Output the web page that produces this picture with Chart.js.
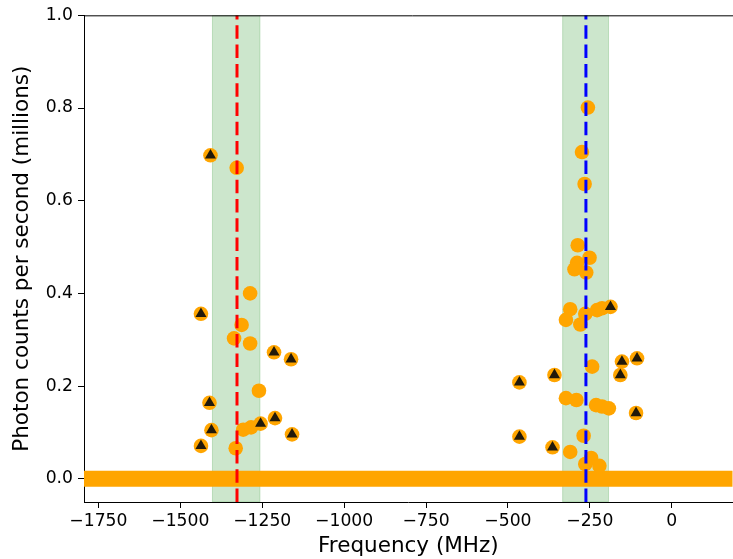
<!DOCTYPE html>
<html>
<head>
<meta charset="utf-8">
<script src="https://cdn.jsdelivr.net/npm/chart.js@4/dist/chart.umd.min.js"></script>
<style>
html,body{margin:0;padding:0;background:#fff;overflow:hidden;width:733px;height:559px;}
canvas{display:block;}
</style>
</head>
<body>
<canvas id="c" width="740" height="559"></canvas>
<script>
// ---- data (frequency in MHz, photon counts in millions/s) ----
const circleFreq = [-1328,-1287,-1313,-1336,-1287,-1260,-1308,-1284,-1331,
  -256,-274,-266,-287,-251,-289,-297,-261,-310,-323,-279,-264,-228,-213,-243,-323,-291,-231,-213,-192,-269,-310,-246,-264,-221];
const circleCounts = [0.671,0.400,0.332,0.303,0.292,0.190,0.106,0.111,0.066,
  0.801,0.705,0.636,0.504,0.477,0.466,0.452,0.445,0.366,0.343,0.333,0.356,0.364,0.368,0.242,0.174,0.170,0.159,0.156,0.152,0.093,0.058,0.045,0.032,0.028];
const triFreq = [-1408,-1437,-1411,-1405,-1437,-1214,-1162,-1255,-1211,-1159,
  -187,-152,-106,-157,-358,-465,-109,-465,-364];
const triCounts = [0.698,0.356,0.164,0.105,0.071,0.273,0.258,0.119,0.131,0.096,
  0.371,0.253,0.260,0.224,0.224,0.208,0.142,0.091,0.068];
const baselineCounts = [0, 0];
const lineFreqs = [-1327, -262];        // red, blue dashed markers
const bandLow = [-1402, -333];
const bandHigh = [-1257, -193];
const xRange = [-1794, 186];
const yRange = [-0.05, 1.0];
const xTicks = [-1750,-1500,-1250,-1000,-750,-500,-250,0];
const yTicks = [0.0,0.2,0.4,0.6,0.8,1.0];

const pts = (xs, ys) => xs.map((x, i) => ({x: x, y: ys[i]}));
const FONT = "'DejaVu Sans', sans-serif";

const spanPlugin = {
  id: 'spans',
  beforeDatasetsDraw(chart) {
    const {ctx, chartArea, scales} = chart;
    ctx.save();
    ctx.beginPath();
    ctx.rect(chartArea.left, chartArea.top, chartArea.right - chartArea.left, chartArea.bottom - chartArea.top);
    ctx.clip();
    for (let i = 0; i < bandLow.length; i++) {
      const x0 = scales.x.getPixelForValue(bandLow[i]);
      const x1 = scales.x.getPixelForValue(bandHigh[i]);
      ctx.fillStyle = 'rgba(0,128,0,0.2)';
      ctx.fillRect(x0, chartArea.top, x1 - x0, chartArea.bottom - chartArea.top);
      ctx.strokeStyle = 'rgba(0,128,0,0.2)';
      ctx.lineWidth = 1;
      ctx.strokeRect(x0, chartArea.top, x1 - x0, chartArea.bottom - chartArea.top);
    }
    ctx.restore();
  },
  afterDraw(chart) {
    const {ctx, chartArea} = chart;
    ctx.save();
    ctx.strokeStyle = '#000';
    ctx.lineWidth = 1;
    ctx.beginPath();
    ctx.moveTo(chartArea.left, chartArea.top + 0.5);
    ctx.lineTo(chartArea.right + 10, chartArea.top + 0.5);
    ctx.stroke();
    ctx.restore();
  }
};

const fmt = v => (v < 0 ? '\u2212' : '') + Math.abs(v);

new Chart(document.getElementById('c'), {
  type: 'scatter',
  data: {
    datasets: [
      {
        label: 'baseline',
        data: pts(xRange, baselineCounts),
        showLine: true, borderColor: '#FFA500', borderWidth: 16,
        pointRadius: 0, clip: 0, order: 5, borderCapStyle: 'butt'
      },
      {
        label: 'counts',
        data: pts(circleFreq, circleCounts),
        backgroundColor: '#FFA500', borderColor: '#FFA500', borderWidth: 0,
        pointRadius: 7.3, order: 4
      },
      {
        label: 'flagged base',
        data: pts(triFreq, triCounts),
        backgroundColor: '#FFA500', borderColor: '#FFA500', borderWidth: 0,
        pointRadius: 7.3, order: 3
      },
      {
        label: 'flagged',
        data: pts(triFreq, triCounts),
        pointStyle: 'triangle',
        backgroundColor: '#21190a', borderColor: '#21190a', borderWidth: 0,
        pointRadius: 6.4, order: 2
      },
      {
        label: 'red',
        data: pts([lineFreqs[0], lineFreqs[0]], [yRange[0], yRange[1]]),
        showLine: true, borderColor: '#ff0000', borderWidth: 3, borderDash: [13.5, 5.8],
        pointRadius: 0, order: 1
      },
      {
        label: 'blue',
        data: pts([lineFreqs[1], lineFreqs[1]], [yRange[0], yRange[1]]),
        showLine: true, borderColor: '#0000ff', borderWidth: 3, borderDash: [13.5, 5.8],
        pointRadius: 0, order: 0
      }
    ]
  },
  options: {
    responsive: false,
    animation: false,
    devicePixelRatio: 1,
    layout: {padding: {top: 15, right: 0, left: 0, bottom: 0}},
    plugins: {legend: {display: false}, tooltip: {enabled: false}},
    scales: {
      x: {
        type: 'linear', min: xRange[0], max: xRange[1],
        afterBuildTicks: s => { s.ticks = xTicks.map(v => ({value: v})); },
        afterFit: s => { s.height = 57; },
        ticks: {font: {family: FONT, size: 17.2}, color: '#000', padding: 3, maxRotation: 0, callback: v => fmt(v)},
        grid: {drawOnChartArea: false, drawTicks: true, tickLength: 6, color: '#000', tickWidth: 1},
        border: {display: true, color: '#000', width: 1},
        title: {display: true, text: 'Frequency (MHz)', font: {family: FONT, size: 21.5}, color: '#000', padding: {top: 0, bottom: 0}}
      },
      y: {
        type: 'linear', min: yRange[0], max: yRange[1],
        afterBuildTicks: s => { s.ticks = yTicks.map(v => ({value: v})); },
        afterFit: s => { s.width = 84; },
        ticks: {font: {family: FONT, size: 17.2}, color: '#000', padding: 5, callback: v => v.toFixed(1)},
        grid: {drawOnChartArea: false, drawTicks: true, tickLength: 6, color: '#000', tickWidth: 1},
        border: {display: true, color: '#000', width: 1},
        title: {display: true, text: 'Photon counts per second (millions)', font: {family: FONT, size: 21.5}, color: '#000', padding: {top: 10, bottom: 0}}
      }
    }
  },
  plugins: [spanPlugin]
});
</script>
</body>
</html>
